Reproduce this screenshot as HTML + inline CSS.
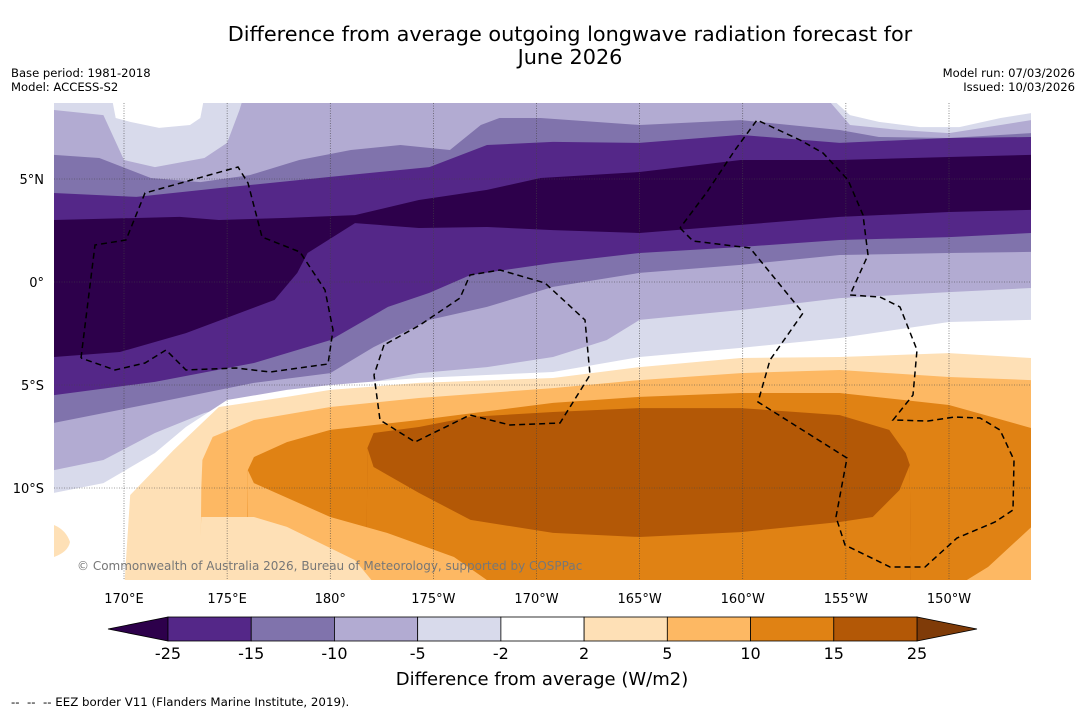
<!DOCTYPE html>
<html><head><meta charset="utf-8">
<style>
body{margin:0;background:#fff;width:1085px;height:713px;overflow:hidden;font-family:"Liberation Sans","DejaVu Sans",sans-serif;}
svg text{font-family:"DejaVu Sans","Liberation Sans",sans-serif;}
</style></head>
<body>
<svg id="chart" width="1085" height="713" viewBox="0 0 1085 713" xmlns="http://www.w3.org/2000/svg">
  <text x="570" y="41" font-size="20.8" text-anchor="middle">Difference from average outgoing longwave radiation forecast for</text>
  <text x="570" y="64" font-size="20.8" text-anchor="middle">June 2026</text>
  <text x="11" y="77" font-size="11.6">Base period: 1981-2018</text>
  <text x="11" y="91" font-size="11.6">Model: ACCESS-S2</text>
  <text x="1075" y="77" font-size="11.6" text-anchor="end">Model run: 07/03/2026</text>
  <text x="1075" y="91" font-size="11.6" text-anchor="end">Issued: 10/03/2026</text>
  <defs><clipPath id="mapclip"><rect x="54" y="103" width="977" height="477"/></clipPath></defs>
  <g id="map" clip-path="url(#mapclip)">
    <rect x="54" y="103" width="977" height="477" fill="#ffffff"/>
    <g id="bands"></g>
    <path d="M54,525 Q66,530 70,542 Q68,552 54,557 Z" fill="#fee0b6"/>
    <g id="grid"></g>
    <g fill="none" stroke="#000" stroke-width="1.5" stroke-dasharray="6,4">
      <polyline points="81,358 95,245 126,240 145,193 238,167 248,183 262,237 300,252 325,290 333,330 328,364 270,372 236,368 186,370 166,350 145,363 115,370 81,358"/>
      <polyline points="384,345 374,375 380,420 415,442 470,415 510,425 560,423 590,375 585,320 545,283 500,270 470,275 460,298 420,325 384,345"/>
      <polyline points="680,228 693,241 750,248 803,313 770,360 758,402 847,458 836,517 845,545 890,567 925,567 957,538 995,522 1013,510 1014,460 1000,430 980,418 955,417 928,421 893,420 913,395 917,350 900,307 880,297 850,295 868,255 863,215 848,180 823,153 800,140 757,120 735,150 707,192 680,228"/>
    </g>
    <text x="77" y="570" font-size="12" fill="#777">© Commonwealth of Australia 2026, Bureau of Meteorology, supported by COSPPac</text>
  </g>
  <g id="axes"></g>
  <g id="colorbar"></g>
  <text x="542" y="685" font-size="18" text-anchor="middle">Difference from average (W/m2)</text>
  <text x="11" y="706" font-size="11.8" xml:space="preserve">--  --  -- EEZ border V11 (Flanders Marine Institute, 2019).</text>
</svg>
<script>
// ---- data ----
const lonTicks = [170,175,180,185,190,195,200,205,210];
const lonTickLabels = ['170°E','175°E','180°','175°W','170°W','165°W','160°W','155°W','150°W'];
const latTicks = [5,0,-5,-10];
const latTickLabels = ['5°N','0°','5°S','10°S'];
const cbLevels = ['-25','-15','-10','-5','-2','2','5','10','15','25'];
const cbColors = ['#542788','#8073ac','#b2abd2','#d8daeb','#ffffff','#fee0b6','#fdb863','#e08214','#b35806'];
const cbExtLow = '#2d004b';
const cbExtHigh = '#7f3b08';
// contour boundaries [lon(°E), lat]; each band fills below its curve
const bandColors = ['#d8daeb','#b2abd2','#8073ac','#542788','#2d004b','#542788','#8073ac','#b2abd2','#d8daeb','#ffffff','#fee0b6','#fdb863','#e08214','#b35806','#e08214','#fdb863','#fee0b6'];
const c1 = [[166.6,9],[169.4,9],[169.6,7.96],[170.3,7.77],[171.7,7.48],[173.2,7.62],[173.7,7.96],[173.9,9],[204.2,9],[205.2,8.1],[206.6,7.77],[208.6,7.52],[210.5,7.52],[212.5,7.96],[214,8.2]];
const c2 = [[166.6,8.35],[169,8.1],[170,5.92],[171.5,5.58],[173.9,6.02],[175,6.75],[175.6,8.35],[175.8,9],[204,9],[205.2,7.62],[207.6,7.38],[210,7.23],[212.5,7.62],[214,7.86]];
const c3 = [[166.6,6.17],[168.8,6.02],[171.3,5.05],[173.7,4.85],[176.1,5.19],[178.5,5.92],[181,6.41],[183.4,6.65],[185.8,6.41],[187.3,7.62],[188.2,7.96],[190.2,7.96],[195,7.62],[199.9,7.86],[204.7,7.38],[206.6,7.04],[210,6.99],[214,7.23]];
const c4 = [[166.6,4.32],[170.6,4.13],[174.6,4.56],[180,5.1],[184.8,5.58],[187.6,6.65],[190.8,6.8],[195,6.75],[199.9,7.14],[204.7,6.75],[210,6.99],[214,7.04]];
const c5 = [[166.6,3.01],[172.7,3.16],[174.6,3.01],[177.9,3.11],[181.2,3.25],[184.3,3.98],[187.6,4.47],[190.2,5.05],[195,5.34],[199.9,5.92],[204.7,5.92],[210,6.07],[214,6.17]];
const c6 = [[166.6,-3.64],[169.8,-3.4],[173,-2.48],[177.3,-0.87],[178.4,0.44],[178.9,1.41],[181.2,2.86],[184.3,2.62],[187.6,2.67],[190.8,2.52],[195,2.38],[199.9,2.77],[204.7,3.16],[210,3.4],[214,3.5]];
const c7 = [[166.6,-5.49],[171.5,-4.85],[176.3,-3.93],[180,-2.82],[182.8,-1.21],[184.8,-0.53],[186.8,0.34],[190.8,0.92],[195,1.41],[199.9,1.7],[204.7,2.04],[210,2.18],[214,2.38]];
const c8 = [[166.6,-6.84],[171.5,-5.87],[176.3,-4.9],[180,-4.42],[182.1,-3.16],[184.8,-1.84],[187.6,-1.21],[190.8,-0.24],[195,0.44],[199.9,0.83],[204.7,1.31],[210,1.41],[214,1.46]];
const c9 = [[166.6,-9.13],[169,-8.64],[171.5,-7.33],[173.9,-6.36],[176.3,-5.73],[180,-5.24],[184.3,-4.42],[187.6,-4.13],[190.8,-3.64],[193.4,-2.82],[195,-1.84],[199.9,-1.36],[204.7,-0.78],[210,-0.49],[214,-0.29]];
const c10 = [[166.6,-10.24],[169,-9.76],[171.5,-8.3],[173,-7.04],[175,-5.73],[177.9,-5.24],[180,-5],[184.3,-4.66],[190.8,-4.37],[195,-3.64],[199.9,-3.2],[204.7,-2.72],[210,-1.94],[214,-1.84]];
const c11 = [[166.6,-15],[170,-15],[170.3,-10.34],[172.4,-8.16],[174.6,-6.07],[177.9,-5.58],[180,-5.24],[184.3,-4.9],[190.8,-4.66],[195,-4.13],[199.9,-3.69],[204.7,-3.64],[210,-3.45],[214,-3.69]];
const c12 = [[166.6,-15],[173.7,-15],[173.75,-10.0],[173.8,-8.64],[174.3,-7.52],[176.3,-6.7],[180,-6.07],[184.3,-5.63],[190.8,-5.15],[195,-4.76],[199.9,-4.42],[204.7,-4.27],[210,-4.61],[214,-4.76]];
const c13 = [[166.6,-15],[175.9,-15],[176,-9.13],[176.3,-8.5],[177.9,-7.77],[180,-7.18],[184.3,-6.7],[190.8,-5.87],[195,-5.58],[199.9,-5.39],[204.7,-5.39],[210,-5.97],[214,-7.09]];
const c14 = [[166.6,-15],[181.75,-15],[181.8,-8.06],[182.1,-7.33],[184.3,-7.04],[186.8,-6.55],[190.8,-6.31],[195,-6.12],[199.9,-6.12],[204.7,-6.46],[207.1,-7.18],[207.9,-8.3],[208.1,-8.88],[208.15,-15],[214,-15]];
const c15 = [[166.6,-15],[181.75,-15],[181.8,-8.06],[182.1,-8.98],[184.3,-10.24],[186.8,-11.55],[190.8,-12.18],[195,-12.38],[199.9,-12.14],[204.7,-11.65],[206.3,-11.41],[207.6,-10.1],[208.1,-8.88],[208.15,-15],[214,-15]];
const c16 = [[166.6,-15],[175.95,-15],[176,-9.13],[176.3,-9.76],[180,-11.41],[182.75,-12.18],[186,-13.35],[187.6,-14.47],[187.7,-15],[210,-15],[211.9,-13.83],[214,-11.89]];
const c17 = [[166.6,-15],[173.6,-15],[173.75,-11.41],[176.3,-11.41],[177.9,-11.89],[181.2,-13.5],[182,-14.47],[182.1,-15],[214,-15]];
const curves = [c1,c2,c3,c4,c5,c6,c7,c8,c9,c10,c11,c12,c13,c14,c15,c16,c17];

// ---- axis functions ----
const X = lon => 124 + (lon - 170) * 20.625;
const Y = lat => 282 - lat * 20.6;
const NS = 'http://www.w3.org/2000/svg';
function mk(tag, attrs){const e=document.createElementNS(NS,tag);for(const k in attrs)e.setAttribute(k,attrs[k]);return e;}

const bands = document.getElementById('bands');
curves.forEach((c,i)=>{
  let d = 'M' + X(150) + ',' + Y(c[0][1]);
  c.forEach(p=>{ d += ' L' + X(p[0]).toFixed(1) + ',' + Y(p[1]).toFixed(1); });
  d += ' L' + X(230) + ',' + Y(c[c.length-1][1]) + ' L' + X(230) + ',620 L' + X(150) + ',620 Z';
  const p = mk('path',{d:d, fill:bandColors[i]});
  
  
  bands.appendChild(p);
});

const grid = document.getElementById('grid');
lonTicks.forEach(l=>{
  const g = mk('line',{x1:X(l),x2:X(l),y1:103,y2:580,stroke:'#444','stroke-width':0.6,'stroke-dasharray':'1,1.5'});
  
  
  grid.appendChild(g);
});
latTicks.forEach(l=>{
  const g = mk('line',{x1:54,x2:1031,y1:Y(l),y2:Y(l),stroke:'#444','stroke-width':0.6,'stroke-dasharray':'1,1.5'});
  
  
  grid.appendChild(g);
});

const axes = document.getElementById('axes');
lonTicks.forEach((l,i)=>{
  const t = mk('text',{x:X(l),y:603,'font-size':13,'text-anchor':'middle'});
  t.textContent = lonTickLabels[i];
  
  
  axes.appendChild(t);
});
latTicks.forEach((l,i)=>{
  const t = mk('text',{x:44,y:Y(l)+5,'font-size':13,'text-anchor':'end'});
  t.textContent = latTickLabels[i];
  
  
  axes.appendChild(t);
});

// colorbar
const cb = document.getElementById('colorbar');
const cbX0 = 168, cbX1 = 917, cbY = 617, cbH = 24;
const bw = (cbX1 - cbX0) / cbColors.length;
const lowTri = mk('polygon',{points:`${cbX0},${cbY} ${cbX0},${cbY+cbH} 108,${cbY+cbH/2}`,fill:cbExtLow,stroke:'#000','stroke-width':0.8});


cb.appendChild(lowTri);
const highTri = mk('polygon',{points:`${cbX1},${cbY} ${cbX1},${cbY+cbH} 977,${cbY+cbH/2}`,fill:cbExtHigh,stroke:'#000','stroke-width':0.8});


cb.appendChild(highTri);
cbColors.forEach((c,i)=>{
  const r = mk('rect',{x:cbX0+i*bw,y:cbY,width:bw,height:cbH,fill:c,stroke:'#000','stroke-width':0.8});
  
  
  cb.appendChild(r);
});
cbLevels.forEach((v,i)=>{
  const t = mk('text',{x:cbX0+i*bw,y:659,'font-size':16,'text-anchor':'middle'});
  t.textContent = v;
  
  
  cb.appendChild(t);
});
</script>
</body></html>
